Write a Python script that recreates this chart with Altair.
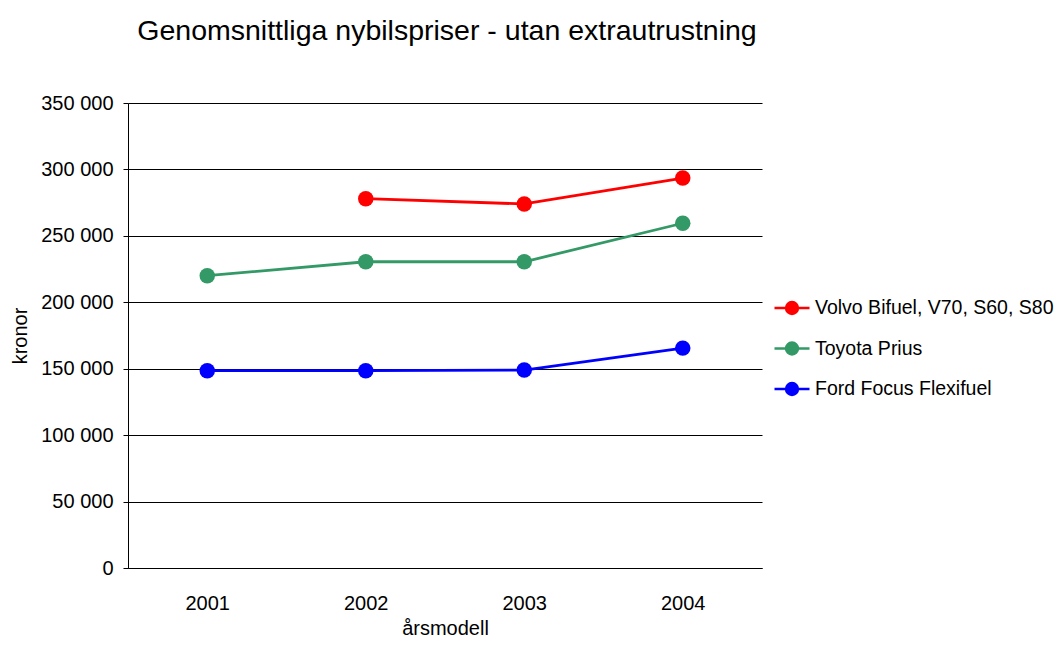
import altair as alt
import pandas as pd

years = ["2001", "2002", "2003", "2004"]
series = ["Volvo Bifuel, V70, S60, S80", "Toyota Prius", "Ford Focus Flexifuel"]
colors = ["#FF0000", "#339966", "#0000FF"]

volvo = [None, 278000, 274000, 293500]
toyota = [220000, 230500, 230500, 259500]
ford = [148500, 148500, 149000, 165500]

rows = []
for name, vals in zip(series, [volvo, toyota, ford]):
    for y, v in zip(years, vals):
        if v is not None:
            rows.append({"year": y, "series": name, "value": v})
df = pd.DataFrame(rows)

FONT = "Liberation Sans"

color = alt.Color(
    "series:N",
    scale=alt.Scale(domain=series, range=colors),
    legend=alt.Legend(
        title=None,
        orient="none",
        legendX=645,
        legendY=186,
        padding=0,
        symbolType="M-1,0L1,0M0,-0.34A0.34,0.34,0,1,1,0,0.34A0.34,0.34,0,1,1,0,-0.34Z",
        symbolSize=1225,
        symbolStrokeWidth=2.5,
        symbolOpacity=1,
        labelFont=FONT,
        labelFontSize=19.5,
        labelColor="#000000",
        labelLimit=400,
        labelOffset=4,
        rowPadding=10.5,
    ),
)

x = alt.X(
    "year:O",
    sort=years,
    scale=alt.Scale(paddingOuter=0.5, paddingInner=0),
    axis=alt.Axis(
        title="årsmodell",
        labelAngle=0,
        ticks=False,
        grid=False,
        domainColor="#000000",
        labelFont=FONT,
        labelFontSize=20,
        labelColor="#000000",
        labelPadding=25,
        titleFont=FONT,
        titleFontSize=20,
        titleFontWeight="normal",
        titleColor="#000000",
        titlePadding=5,
    ),
)

y = alt.Y(
    "value:Q",
    scale=alt.Scale(domain=[0, 350000], nice=False),
    axis=alt.Axis(
        title="kronor",
        values=[0, 50000, 100000, 150000, 200000, 250000, 300000, 350000],
        labelExpr="replace(format(datum.value, ','), regexp(',', 'g'), ' ')",
        grid=True,
        gridColor="#000000",
        gridWidth=1,
        domainColor="#000000",
        tickColor="#000000",
        tickSize=5,
        labelFont=FONT,
        labelFontSize=20,
        labelColor="#000000",
        labelPadding=10,
        titleFont=FONT,
        titleFontSize=20,
        titleFontWeight="normal",
        titleColor="#000000",
        titlePadding=10,
    ),
)

base = alt.Chart(df)
lines = base.mark_line(strokeWidth=2.8).encode(x=x, y=y, color=color, detail="series:N")
points = base.mark_circle(size=240, opacity=1).encode(x=x, y=y, color=color)

chart = (
    alt.layer(lines, points)
    .properties(
        width=634,
        height=465,
        title=alt.TitleParams(
            "Genomsnittliga nybilspriser - utan extrautrustning",
            font=FONT,
            fontSize=28.5,
            fontWeight="normal",
            color="#000000",
            anchor="middle",
            frame="group",
            baseline="alphabetic",
            offset=25,
            dx=2,
        ),
        autosize=alt.AutoSizeParams(type="none"),
        padding={"left": 120, "top": 95, "right": 294, "bottom": 70},
    )
    .configure_view(stroke=None)
    .configure_axis(domainWidth=1)
)

chart.save("out.html", embed_options={"renderer": "svg", "actions": False})
